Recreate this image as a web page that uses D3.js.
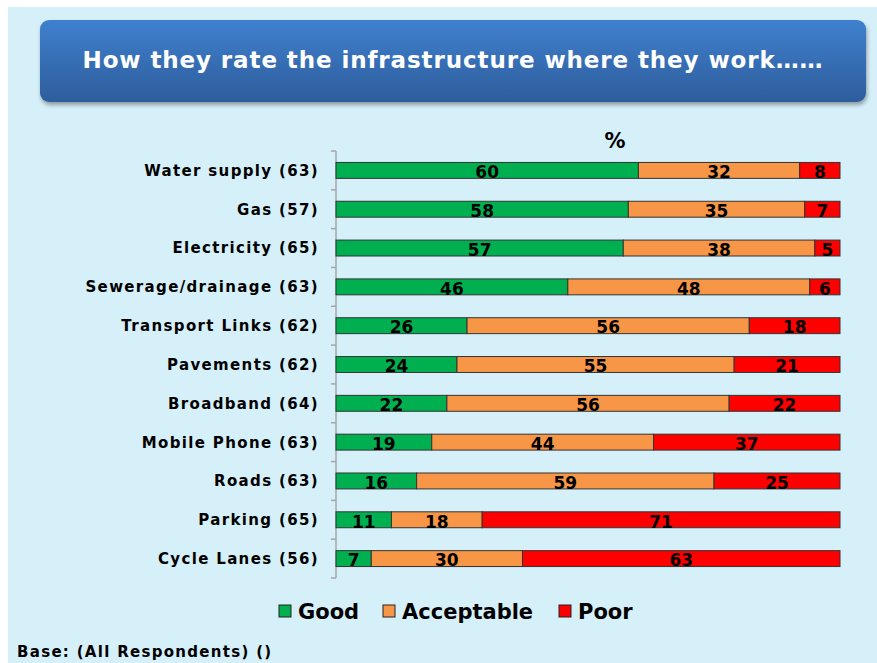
<!DOCTYPE html>
<html><head><meta charset="utf-8">
<script src="https://cdn.jsdelivr.net/npm/d3@7/dist/d3.min.js"></script>
<style>html,body{margin:0;padding:0;background:#fff;}svg{display:block;}</style>
</head><body>
<svg id="chart" width="877" height="663"></svg>
<script>
const categories = ["Water supply (63)","Gas (57)","Electricity (65)","Sewerage/drainage (63)","Transport Links (62)","Pavements (62)","Broadband (64)","Mobile Phone (63)","Roads (63)","Parking (65)","Cycle Lanes (56)"];
const good = [60,58,57,46,26,24,22,19,16,11,7];
const acceptable = [32,35,38,48,56,55,56,44,59,18,30];
const poor = [8,7,5,6,18,21,22,37,25,71,63];
const seriesNames = ["Good","Acceptable","Poor"];
const colors = ["#00b050","#f79646","#ff0000"];
const titleText = "How they rate the infrastructure where they work……";
const baseText = "Base: (All Respondents) ()";

const svg = d3.select("#chart");
const font = "'DejaVu Sans', Verdana, sans-serif";

// background
svg.append("rect").attr("x",8).attr("y",7).attr("width",877).attr("height",663).attr("fill","#d6f0fa");

// title box
const defs = svg.append("defs");
const grad = defs.append("linearGradient").attr("id","tg").attr("x1",0).attr("y1",0).attr("x2",0).attr("y2",1);
grad.append("stop").attr("offset","0%").attr("stop-color","#3f80cf");
grad.append("stop").attr("offset","100%").attr("stop-color","#2e5d9b");
const flt = defs.append("filter").attr("id","sh").attr("x","-5%").attr("y","-20%").attr("width","110%").attr("height","150%");
flt.append("feDropShadow").attr("dx",1).attr("dy",3).attr("stdDeviation",2).attr("flood-color","#000").attr("flood-opacity",0.35);
svg.append("rect").attr("x",40).attr("y",20).attr("width",826).attr("height",82).attr("rx",9)
  .attr("fill","url(#tg)").attr("filter","url(#sh)");
svg.append("text").attr("x",453).attr("y",68).attr("text-anchor","middle")
  .attr("font-family",font).attr("font-weight","bold").attr("font-size",23).attr("letter-spacing",0.9).attr("fill","#fff")
  .text(titleText);

// scales
const x = d3.scaleLinear().domain([0,100]).range([336,840]);
const y = d3.scaleBand().domain(categories).range([151,578]).paddingInner(0.59).paddingOuter(0.295);

// % label
svg.append("text").attr("x",615).attr("y",148).attr("text-anchor","middle")
  .attr("font-family",font).attr("font-weight","bold").attr("font-size",21).attr("fill","#000").text("%");

// axis
const axisG = svg.append("g").attr("transform","translate(336,0)");
axisG.append("line").attr("x1",0).attr("x2",0).attr("y1",151).attr("y2",578).attr("stroke","#a6a6a6").attr("stroke-width",1.5);
const tickPos = d3.range(categories.length+1).map(i => 151 + i*(578-151)/categories.length);
axisG.selectAll("line.tk").data(tickPos).enter().append("line").attr("class","tk")
  .attr("x1",-5).attr("x2",0).attr("y1",d=>d).attr("y2",d=>d).attr("stroke","#a6a6a6").attr("stroke-width",1.5);

// category labels
svg.selectAll("text.cat").data(categories).enter().append("text").attr("class","cat")
  .attr("x",319).attr("y",d=>y(d)+y.bandwidth()/2).attr("dy","0.36em").attr("text-anchor","end")
  .attr("font-family",font).attr("font-weight","bold").attr("font-size",15).attr("letter-spacing",1.35).attr("fill","#000").text(d=>d);

// stacks
const rows = categories.map((c,i)=>({cat:c, Good:good[i], Acceptable:acceptable[i], Poor:poor[i]}));
const stack = d3.stack().keys(seriesNames)(rows);
const layers = svg.selectAll("g.layer").data(stack).enter().append("g").attr("class","layer");
layers.each(function(layer,li){
  const g = d3.select(this);
  g.selectAll("rect").data(layer).enter().append("rect")
    .attr("x",d=>x(d[0])).attr("y",d=>y(d.data.cat)).attr("width",d=>x(d[1])-x(d[0])).attr("height",y.bandwidth())
    .attr("fill",colors[li]).attr("stroke","#333").attr("stroke-width",1);
  g.selectAll("text").data(layer).enter().append("text")
    .attr("x",d=>(x(d[0])+x(d[1]))/2).attr("y",d=>y(d.data.cat)+y.bandwidth()/2+1).attr("dy","0.4em")
    .attr("text-anchor","middle").attr("font-family",font).attr("font-weight","bold").attr("font-size",17).attr("fill","#000")
    .text(d=>d[1]-d[0]);
});

// legend
const legendX = [279,383,559];
const lg = svg.selectAll("g.lg").data(seriesNames).enter().append("g").attr("class","lg")
  .attr("transform",(d,i)=>`translate(${legendX[i]},605)`);
lg.append("rect").attr("width",12).attr("height",12).attr("fill",(d,i)=>colors[i]).attr("stroke","#222").attr("stroke-width",1);
lg.append("text").attr("x",19).attr("y",6).attr("dy","0.36em").attr("font-family",font).attr("font-weight","bold")
  .attr("font-size",21).attr("fill","#000").text(d=>d);

// base text
svg.append("text").attr("x",17).attr("y",657).attr("font-family",font).attr("font-weight","bold").attr("font-size",15).attr("letter-spacing",1.3).attr("fill","#000").text(baseText);
</script>
</body></html>
